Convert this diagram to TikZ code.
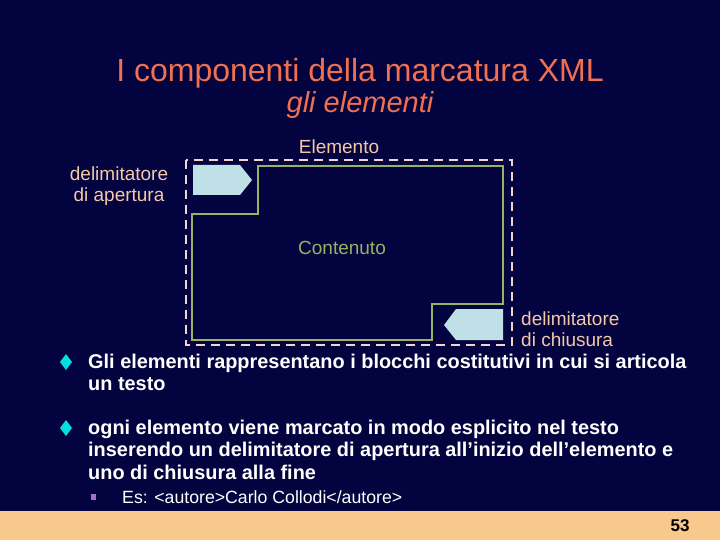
\documentclass[tikz,border=0pt]{standalone}
\usepackage{fontspec}
\setmainfont{Liberation Sans}
\begin{document}
\begin{tikzpicture}[x=1pt,y=-1pt,
  lbl/.style={text=lblc,font=\fontsize{19}{21}\selectfont,align=center,inner sep=0},
  body/.style={text=white,font=\bfseries\fontsize{19.9}{22.3}\selectfont,anchor=north west,align=left,inner sep=0},
  tagc/.style={fill=tagblue,draw=none}]
\definecolor{bg}{HTML}{03033F}
\definecolor{band}{HTML}{F8C88C}
\definecolor{ttl}{HTML}{F07050}
\definecolor{lblc}{HTML}{F4C8A8}
\definecolor{dashc}{HTML}{F2D4CC}
\definecolor{grn}{HTML}{94B460}
\definecolor{tagblue}{HTML}{BEE0E6}
\definecolor{cyanb}{HTML}{00E0E0}
\definecolor{purp}{HTML}{A070D0}
\fill[bg] (0,0) rectangle (720,540);
\useasboundingbox (0,0) rectangle (720,540);
\fill[band] (0,511) rectangle (720,540);
\node[text=ttl,font=\fontsize{32}{34}\selectfont] (title) at (360,73) {I componenti della marcatura XML};
\node[text=ttl,font=\itshape\fontsize{29}{32}\selectfont] (sub) at (360,105) {gli elementi};
\draw[dashc,line width=1.2pt,dash pattern=on 9pt off 6pt] (186,160) rectangle (512,345);
\draw[grn,line width=1.3pt] (192,214) -- (258,214) -- (258,166) -- (503,166) -- (503,304) -- (432,304) -- (432,340) -- (192,340) -- cycle;
\fill[tagc] (193,165) -- (240,165) -- (252,180) -- (240,195) -- (193,195) -- cycle;
\fill[tagc] (503,309) -- (456,309) -- (444,325) -- (456,340) -- (503,340) -- cycle;
\node[lbl] (elem) at (339,147) {Elemento};
\node[lbl] (ap) at (119,186) {delimitatore\\di apertura};
\node[lbl,text=grn] (cont) at (342,248) {Contenuto};
\node[lbl,align=left,anchor=west] (ch) at (521,329) {delimitatore\\ di chiusura};
\fill[cyanb] (66,354) -- (72,362) -- (66,370) -- (60,362) -- cycle;
\fill[cyanb] (66,420) -- (72,428) -- (66,436) -- (60,428) -- cycle;
\node[body] (b1) at (88,354) {Gli elementi rappresentano i blocchi costitutivi in cui si articola\\un testo};
\node[body] (b2) at (88,420) {ogni elemento viene marcato in modo esplicito nel testo\\inserendo un delimitatore di apertura all’inizio dell’elemento e\\uno di chiusura alla fine};
\fill[purp] (91,494) rectangle (96,500);
\node[text=white,font=\fontsize{17.7}{20}\selectfont,anchor=west,inner sep=0] (es) at (122,497) {Es: <autore>Carlo Collodi</autore>};
\node[font=\bfseries\fontsize{17}{19}\selectfont,inner sep=0] (pg) at (680,526) {53};
\end{tikzpicture}
\end{document}
